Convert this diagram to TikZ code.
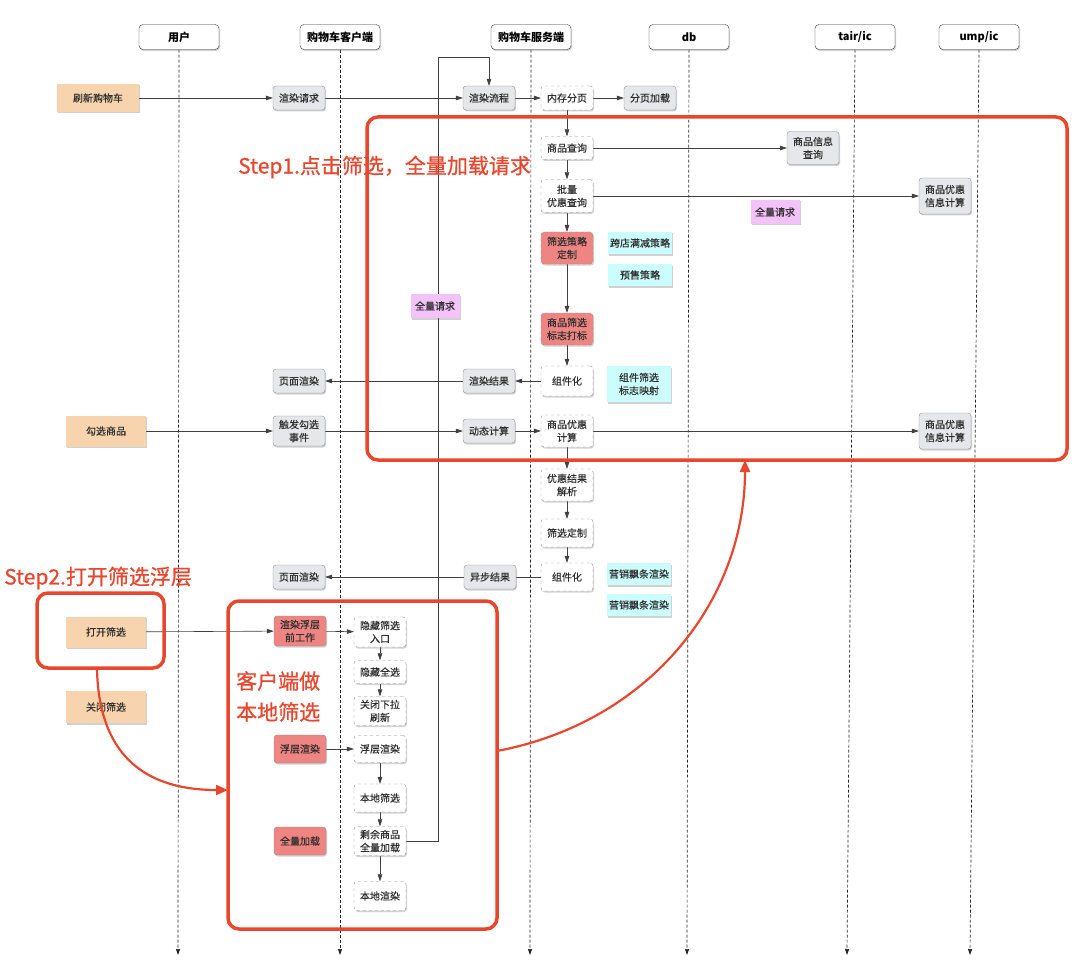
\documentclass[tikz,border=0pt]{standalone}
\usepackage{fontspec}
\setmainfont{Noto Sans CJK SC}
\newfontfamily\redfont[FakeBold=0.8]{Noto Sans CJK SC}
\newfontfamily\boxfont[FakeBold=0.3]{Noto Sans CJK SC}
\usetikzlibrary{arrows.meta,shadows}
\pgfdeclarelayer{bg}
\pgfsetlayers{bg,main}
\definecolor{gfill}{HTML}{E6E7EA}
\definecolor{gline}{HTML}{8E8E8E}
\definecolor{ofill}{HTML}{F7D4AE}
\definecolor{rfill}{HTML}{EE8582}
\definecolor{cfill}{HTML}{CCFDFD}
\definecolor{pfill}{HTML}{F3C2F8}
\definecolor{redf}{HTML}{E8472D}
\definecolor{txt}{HTML}{2E2E2E}
\tikzset{
  x=1pt,y=-1pt,
  shd/.style={drop shadow={shadow xshift=1pt,shadow yshift=-1.5pt,opacity=0.3,fill=black!60}},
  base/.style={shd,align=center,inner sep=1pt,text=txt,font=\boxfont\fontsize{10}{13}\selectfont,minimum width=52pt,minimum height=24pt},
  hdr/.style={base,draw=black!80,fill=white,rounded corners=4pt,minimum width=80pt,minimum height=25pt,font=\fontsize{11}{13}\selectfont\bfseries,text=black},
  gbox/.style={base,draw=gline,fill=gfill,rounded corners=3pt},
  wbox/.style={base,draw=gline,dashed,fill=white,rounded corners=3pt},
  rbox/.style={base,draw=gline,fill=rfill,rounded corners=3pt},
  rboxd/.style={rbox,dashed},
  obox/.style={base,fill=ofill,minimum width=80pt,minimum height=30pt},
  cbox/.style={base,fill=cfill,minimum width=64pt,minimum height=22pt},
  pbox/.style={base,fill=pfill,minimum width=49pt,minimum height=24pt},
  life/.style={draw=black!85,line width=0.7pt,dash pattern=on 3pt off 2pt,-{Triangle[length=6pt,width=4pt]}},
  arr/.style={draw=black!75,line width=0.6pt,-{Triangle[length=7pt,width=4.5pt]}},
  ln/.style={draw=black!75,line width=0.6pt},
  frame/.style={draw=redf,line width=3.5pt,rounded corners=11pt},
  redarr/.style={draw=redf,line width=2.2pt,-{Triangle[length=12pt,width=10pt]}},
  redtxt/.style={text=redf,font=\redfont\fontsize{21}{25}\selectfont,inner sep=0pt,anchor=west}
}
\begin{document}
\begin{tikzpicture}
\useasboundingbox (0,0) rectangle (1080,979);
% headers
\node[hdr] (hU) at (179,37) {用户};
\node[hdr] (hC) at (340,37) {购物车客户端};
\node[hdr] (hS) at (531,37) {购物车服务端};
\node[hdr] (hD) at (689,37) {db};
\node[hdr] (hT) at (855,37) {tair/ic};
\node[hdr] (hM) at (979,37) {ump/ic};
\coordinate (eU) at (178,955);
\coordinate (eC) at (340,955);
\coordinate (eS) at (530,955);
\coordinate (eD) at (687,955);
\coordinate (eT) at (847,955);
\coordinate (eM) at (970,955);
% row 1
\node[obox,minimum height=28pt,minimum width=82pt] (o1) at (98,98) {刷新购物车};
\node[gbox] (c1) at (299,98) {渲染请求};
\node[gbox] (s1) at (489,98) {渲染流程};
\node[wbox] (m1) at (567,98) {内存分页};
\node[gbox] (d1) at (650,98) {分页加载};
% server column
\node[wbox,minimum height=23pt] (q1) at (567,148) {商品查询};
\node[wbox,minimum height=33pt] (q2) at (567,196) {批量\\优惠查询};
\node[rboxd,minimum height=32pt] (q3) at (567,248) {筛选策略\\定制};
\node[rboxd,minimum height=32pt] (q4) at (567,329) {商品筛选\\标志打标};
\node[wbox,minimum height=30pt] (q5) at (567,381) {组件化};
\node[wbox,minimum height=32pt] (q6) at (567,431) {商品优惠\\计算};
\node[wbox,minimum height=32pt] (q7) at (567,485) {优惠结果\\解析};
\node[wbox,minimum height=28pt] (q8) at (567,533) {筛选定制};
\node[wbox,minimum height=28pt] (q9) at (567,577) {组件化};
% right side
\node[gbox,minimum height=33pt] (t1) at (813,148) {商品信息\\查询};
\node[gbox,minimum height=36pt] (u1) at (945,196) {商品优惠\\信息计算};
\node[pbox] (p1) at (775,212) {全量请求};
\node[cbox] (k1) at (640,243) {跨店满减策略};
\node[cbox] (k2) at (640,275) {预售策略};
\node[cbox,minimum height=36pt] (k3) at (639,384) {组件筛选\\标志映射};
\node[gbox,minimum height=36pt] (u2) at (945,431) {商品优惠\\信息计算};
\node[cbox] (k4) at (639,574) {营销飘条渲染};
\node[cbox] (k5) at (639,605) {营销飘条渲染};
\node[pbox] (p2) at (435,306) {全量请求};
% client rows
\node[gbox] (c2) at (299,381) {页面渲染};
\node[gbox] (s2) at (489,381) {渲染结果};
\node[obox,minimum height=31pt] (o2) at (106,431) {勾选商品};
\node[gbox,minimum height=30pt] (c3) at (299,431) {触发勾选\\事件};
\node[gbox] (s3) at (489,431) {动态计算};
\node[gbox] (c4) at (299,577) {页面渲染};
\node[gbox] (s4) at (490,577) {异步结果};
% step2 area
\node[obox,minimum height=31pt] (o3) at (106,632) {打开筛选};
\node[obox,minimum height=32pt] (o4) at (106,707) {关闭筛选};
\node[rbox,minimum height=30pt] (r1) at (300,631) {渲染浮层\\前工作};
\node[wbox,minimum height=30pt] (w1) at (380,632) {隐藏筛选\\入口};
\node[wbox,minimum height=23pt] (w2) at (380,672) {隐藏全选};
\node[wbox,minimum height=29pt] (w3) at (380,711) {关闭下拉\\刷新};
\node[rbox,minimum height=28pt] (r2) at (300,749) {浮层渲染};
\node[wbox,minimum height=27pt] (w4) at (380,749) {浮层渲染};
\node[wbox,minimum height=28pt] (w5) at (380,798) {本地筛选};
\node[wbox,minimum height=29pt] (w6) at (380,841) {剩余商品\\全量加载};
\node[wbox,minimum height=29pt] (w7) at (380,896) {本地渲染};
\node[rbox,minimum height=28pt] (r3) at (300,841) {全量加载};
\coordinate (lp) at (438,57);
% connectors
\begin{pgfonlayer}{bg}
\foreach \h/\e in {hU/eU,hC/eC,hS/eS,hD/eD,hT/eT,hM/eM} \draw[life] (\h.south) -- (\e);
\draw[arr] (o1) -- (c1);
\draw[arr] (c1) -- (s1);
\draw[arr] (s1) -- (m1);
\draw[arr] (m1) -- (d1);
\draw[arr] (m1) -- (q1);
\draw[arr] (q1) -- (q2);
\draw[arr] (q2) -- (q3);
\draw[arr] (q3) -- (q4);
\draw[arr] (q4) -- (q5);
\draw[arr] (q1) -- (t1);
\draw[arr] (q2) -- (u1);
\draw[arr] (q5) -- (s2);
\draw[arr] (s2) -- (c2);
\draw[arr] (o2) -- (c3);
\draw[arr] (c3) -- (s3);
\draw[arr] (s3) -- (q6);
\draw[arr] (q6) -- (u2);
\draw[arr] (q6) -- (q7);
\draw[arr] (q7) -- (q8);
\draw[arr] (q8) -- (q9);
\draw[ln] (q9) -- (s4);
\draw[arr] (s4) -- (c4);
\draw[arr] (o3) -- (r1);
\draw[arr] (r1) -- (w1);
\draw[arr] (w1) -- (w2);
\draw[arr] (w2) -- (w3);
\draw[arr] (r2) -- (w4);
\draw[arr] (w4) -- (w5);
\draw[arr] (w5) -- (w6);
\draw[arr] (w6) -- (w7);
\draw[arr] (w6.east) -| (lp) -| (s1.north);
\end{pgfonlayer}
% red frames and annotations
\draw[frame] (367,117) rectangle (1067,460);
\draw[frame] (228,601) rectangle (497,929);
\draw[frame] (37,593) rectangle (164,668);
\node[redtxt] (st1) at (238,167) {Step1.点击筛选，全量加载请求};
\node[redtxt] (st2) at (4,578) {Step2.打开筛选浮层};
\node[redtxt] (lc1) at (236,681) {客户端做};
\node[redtxt] (lc2) at (236,712) {本地筛选};
\coordinate (a1) at (97,669);
\coordinate (a2) at (228,790);
\coordinate (b1) at (497,751);
\coordinate (b2) at (745,460);
\draw[redarr] (a1) .. controls (99,760) and (150,790) .. (a2);
\draw[redarr] (b1) .. controls (650,722) and (745,600) .. (b2);
\end{tikzpicture}
\end{document}
